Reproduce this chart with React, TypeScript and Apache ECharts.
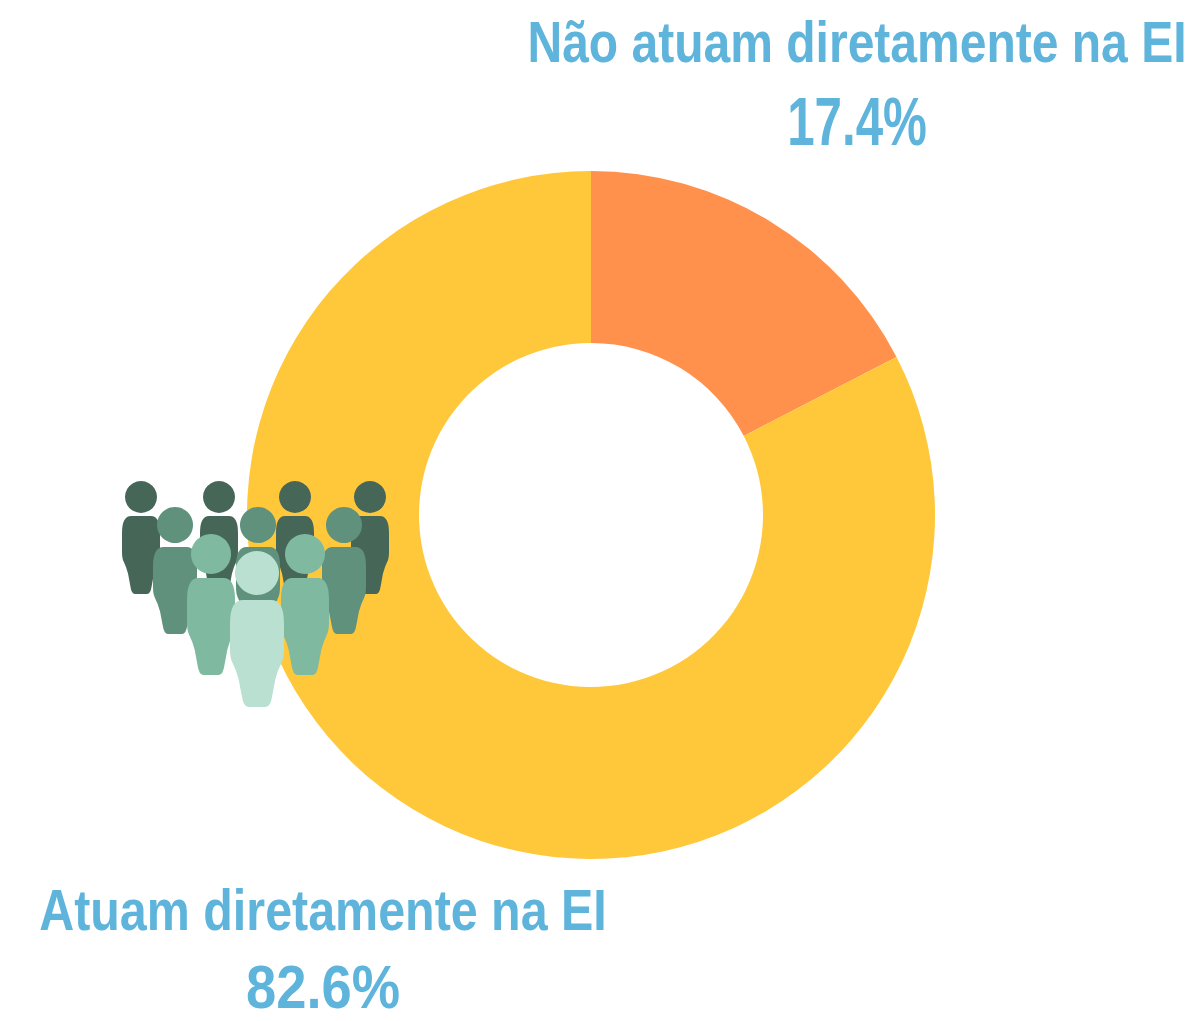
import React, { useEffect, useRef } from "react";
import * as echarts from "echarts";

const categories = ["Não atuam diretamente na EI", "Atuam diretamente na EI"];
const values = [17.4, 82.6];
const sliceColors = ["#FF914D", "#FFC83A"];
const textColor = "#5FB4DC";
const font = "'Liberation Sans', sans-serif";

// where each slice's caption sits, its value's size, and how much it is condensed horizontally
const captions = [
  { x: 857, nameY: 42, valueY: 122, valueSize: 68, nameScale: 0.828, valueScale: 0.725 },
  { x: 323, nameY: 910, valueY: 986, valueSize: 62, nameScale: 0.835, valueScale: 0.877 },
];

const BODY =
  "M24 0 L76 0 Q100 0 100 22 L100 46 Q100 54 96 58 Q88 66 84 74 L78 90 Q75 100 66 100 L34 100 Q25 100 22 90 L16 74 Q12 66 4 58 Q0 54 0 46 L0 22 Q0 0 24 0 Z";
echarts.graphic.registerShape("personBody", echarts.graphic.extendPath(BODY, {}));

// one rank of the icon: colour, head radius, head y, body top, body height, body width, centres
const ranks = [
  { fill: "#466658", r: 16, headY: 497, top: 516, h: 78, w: 38, xs: [141, 219, 295, 370] },
  { fill: "#5F917C", r: 18, headY: 525, top: 547, h: 87, w: 44, xs: [175, 258, 344] },
  { fill: "#7FB9A0", r: 20, headY: 554, top: 578, h: 97, w: 48, xs: [211, 305] },
  { fill: "#B9E0D0", r: 22, headY: 573, top: 600, h: 107, w: 54, xs: [257] },
];

const peopleGraphics = ranks.flatMap((k) =>
  k.xs.flatMap((cx) => [
    {
      type: "personBody",
      x: cx - k.w / 2,
      y: k.top,
      scaleX: k.w / 100,
      scaleY: k.h / 100,
      z: 10,
      style: { fill: k.fill },
    },
    {
      type: "circle",
      shape: { cx, cy: k.headY, r: k.r },
      z: 10,
      style: { fill: k.fill },
    },
  ])
);

const captionGraphics = categories.flatMap((name, i) => {
  const c = captions[i];
  const base = { align: "center", verticalAlign: "middle", fontFamily: font, fontWeight: "bold", fill: textColor };
  return [
    {
      type: "text",
      x: c.x,
      y: c.nameY,
      scaleX: c.nameScale,
      z: 11,
      style: { ...base, text: name, fontSize: 58 },
    },
    {
      type: "text",
      x: c.x,
      y: c.valueY,
      scaleX: c.valueScale,
      z: 11,
      style: { ...base, text: `${values[i]}%`, fontSize: c.valueSize },
    },
  ];
});

export default function App() {
  const ref = useRef<HTMLDivElement>(null);
  useEffect(() => {
    const chart = echarts.init(ref.current!, null, { renderer: "svg" });
    chart.setOption({
      animation: false,
      backgroundColor: "#ffffff",
      graphic: [...peopleGraphics, ...captionGraphics],
      series: [
        {
          type: "pie",
          center: [591, 515],
          radius: [172, 344],
          startAngle: 90,
          clockwise: true,
          silent: true,
          label: { show: false },
          labelLine: { show: false },
          data: categories.map((name, i) => ({
            name,
            value: values[i],
            itemStyle: { color: sliceColors[i] },
          })),
        },
      ],
    });
    return () => chart.dispose();
  }, []);
  return <div ref={ref} style={{ position: "fixed", left: 0, top: 0, width: 1199, height: 1021 }} />;
}
